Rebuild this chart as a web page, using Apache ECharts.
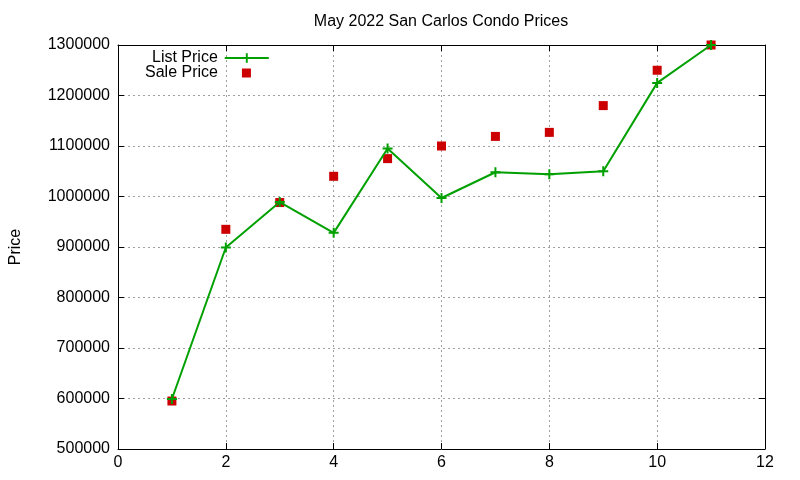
<!DOCTYPE html>
<html>
<head>
<meta charset="utf-8">
<script src="https://cdn.jsdelivr.net/npm/echarts@6/dist/echarts.min.js"></script>
<style>
  html, body { margin: 0; padding: 0; background: #fff; }
  #chart { width: 800px; height: 480px; }
</style>
</head>
<body>
<div id="chart"></div>
<script>
var months = [1, 2, 3, 4, 5, 6, 7, 8, 9, 10, 11];
var listPrice = [599000, 899000, 989000, 928000, 1095000, 997000, 1048000, 1044000, 1050000, 1225000, 1300000];
var salePrice = [595000, 935000, 988000, 1040000, 1075000, 1100000, 1119000, 1127000, 1180000, 1250000, 1300000];

var font = 'Liberation Sans, Arial, sans-serif';
var plus = 'path://M4,0H6V4H10V6H6V10H4V6H0V4H4Z';

var listData = [];
var saleData = [];
for (var i = 0; i < months.length; i++) {
    listData.push([months[i], listPrice[i]]);
    saleData.push([months[i], salePrice[i]]);
}

var gridLine = { show: true, lineStyle: { color: '#a0a0a0', type: [2, 3], width: 1 } };
var frame = { show: true, onZero: false, lineStyle: { color: '#000', width: 1 } };
var ticks = { show: true, inside: true, length: 6, lineStyle: { color: '#000' } };

var chart = echarts.init(document.getElementById('chart'));
chart.setOption({
    animation: false,
    title: {
        text: 'May 2022 San Carlos Condo Prices',
        left: 436, textAlign: 'center', top: 9,
        textStyle: { fontFamily: font, fontSize: 16, fontWeight: 'normal', color: '#000' }
    },
    legend: [{
        data: ['List Price'],
        left: 152, top: 50, padding: 0,
        align: 'right', itemWidth: 44, itemHeight: 12,
        textStyle: { fontFamily: font, fontSize: 16, color: '#000', padding: [0, 2, 0, 0] }
    }, {
        data: ['Sale Price'],
        left: 145, top: 65, padding: 0,
        align: 'right', itemWidth: 9, itemHeight: 9,
        textStyle: { fontFamily: font, fontSize: 16, color: '#000', padding: [0, 19, 0, 0] }
    }],
    grid: { left: 118, right: 35, top: 45, bottom: 31, outerBoundsMode: 'none', containLabel: false },
    xAxis: [{
        type: 'value', min: 0, max: 12, interval: 2,
        axisLine: frame, axisTick: ticks, splitLine: gridLine,
        axisLabel: { fontFamily: font, fontSize: 16, color: '#000', margin: 6 }
    }, {
        type: 'value', min: 0, max: 12, interval: 2, position: 'top',
        axisLine: frame, axisTick: ticks, splitLine: { show: false },
        axisLabel: { show: false }
    }],
    yAxis: [{
        type: 'value', min: 500000, max: 1300000, interval: 100000,
        name: 'Price', nameLocation: 'middle', nameGap: 94,
        nameTextStyle: { fontFamily: font, fontSize: 16, color: '#000' },
        axisLine: frame, axisTick: ticks, splitLine: gridLine,
        axisLabel: {
            fontFamily: font, fontSize: 16, color: '#000', margin: 8,
            formatter: function (v) { return String(v); }
        }
    }, {
        type: 'value', min: 500000, max: 1300000, interval: 100000, position: 'right',
        axisLine: frame, axisTick: ticks, splitLine: { show: false },
        axisLabel: { show: false }
    }],
    series: [{
        name: 'List Price',
        type: 'line',
        data: listData,
        symbol: plus, symbolSize: 10,
        lineStyle: { color: '#00a000', width: 2 },
        itemStyle: { color: '#00a000' }
    }, {
        name: 'Sale Price',
        type: 'scatter',
        data: saleData,
        symbol: 'rect', symbolSize: 9,
        itemStyle: { color: '#cc0000', opacity: 1 }
    }]
});
</script>
</body>
</html>
